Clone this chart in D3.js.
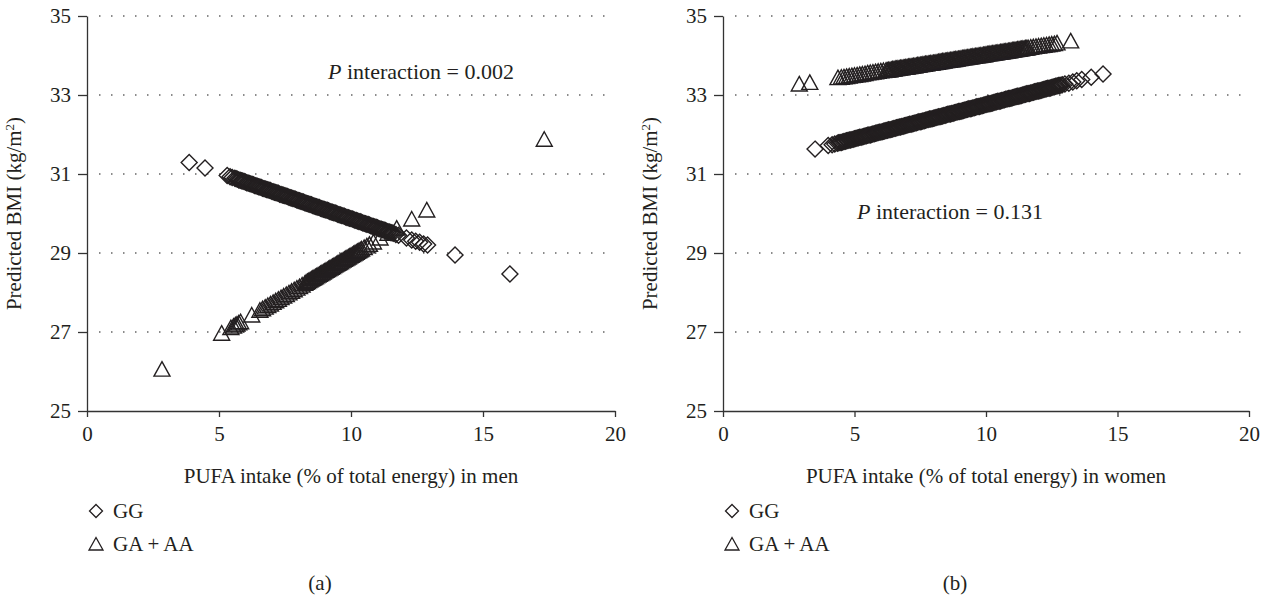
<!DOCTYPE html>
<html>
<head>
<meta charset="utf-8">
<script src="https://cdn.jsdelivr.net/npm/d3@7"></script>
<style>
  body { margin: 0; background: #fff; }
  svg text { font-family: "Liberation Serif", "Times New Roman", serif; fill: #231f20; }
</style>
</head>
<body>
<div id="chart"></div>
<script>
// tick values and series names
var xTicks = [0, 5, 10, 15, 20];
var yTicks = [25, 27, 29, 31, 33, 35];
var groups = ["GG", "GA + AA"];
var pValues = ["0.002", "0.131"];

// men, GG (diamonds) [PUFA %, predicted BMI]
var menGG = [
  [3.87,31.29],[4.47,31.15],[5.31,30.96],[5.42,30.93],[5.50,30.91],
  [5.60,30.89],[5.65,30.88],[5.70,30.87],[5.75,30.85],[5.80,30.84],[5.85,30.83],[5.90,30.82],[5.95,30.81],
  [6.00,30.80],[6.05,30.78],[6.10,30.77],[6.15,30.76],[6.20,30.75],[6.25,30.74],[6.30,30.73],[6.35,30.71],
  [6.40,30.70],[6.45,30.69],[6.50,30.68],[6.55,30.67],[6.60,30.66],[6.65,30.64],[6.70,30.63],[6.75,30.62],
  [6.80,30.61],[6.85,30.60],[6.90,30.59],[6.95,30.58],[7.00,30.56],[7.05,30.55],[7.10,30.54],[7.15,30.53],
  [7.20,30.52],[7.25,30.51],[7.30,30.49],[7.35,30.48],[7.40,30.47],[7.45,30.46],[7.50,30.45],[7.55,30.44],
  [7.60,30.43],[7.65,30.41],[7.70,30.40],[7.75,30.39],[7.80,30.38],[7.85,30.37],[7.90,30.36],[7.95,30.34],
  [8.00,30.33],[8.05,30.32],[8.10,30.31],[8.15,30.30],[8.20,30.29],[8.25,30.27],[8.30,30.26],[8.35,30.25],
  [8.40,30.24],[8.45,30.23],[8.50,30.22],[8.55,30.20],[8.60,30.19],[8.65,30.18],[8.70,30.17],[8.75,30.16],
  [8.80,30.15],[8.85,30.13],[8.90,30.12],[8.95,30.11],[9.00,30.10],[9.05,30.09],[9.10,30.08],[9.15,30.07],
  [9.20,30.05],[9.25,30.04],[9.30,30.03],[9.35,30.02],[9.40,30.01],[9.45,30.00],[9.50,29.98],[9.55,29.97],
  [9.60,29.96],[9.65,29.95],[9.70,29.94],[9.75,29.93],[9.80,29.91],[9.85,29.90],[9.90,29.89],[9.95,29.88],
  [10.00,29.87],[10.05,29.86],[10.10,29.85],[10.15,29.83],[10.20,29.82],[10.25,29.81],[10.30,29.80],[10.35,29.79],
  [10.40,29.78],[10.45,29.76],[10.50,29.75],[10.55,29.74],[10.60,29.73],[10.65,29.72],[10.70,29.71],[10.75,29.69],
  [10.80,29.68],[10.85,29.67],[10.90,29.66],[10.95,29.65],[11.00,29.64],[11.05,29.62],[11.10,29.61],[11.15,29.60],
  [11.20,29.59],[11.25,29.58],[11.30,29.57],[11.35,29.55],[11.40,29.54],[11.45,29.53],[11.50,29.52],[11.55,29.51],
  [11.60,29.50],[11.70,29.47],[11.80,29.45],[12.10,29.38],[12.30,29.33],[12.45,29.30],[12.60,29.27],[12.75,29.23],
  [12.90,29.20],[13.94,28.95],[16.02,28.47]
];

// men, GA + AA (triangles)
var menGA = [
  [2.84,26.06],[5.10,26.97],[5.45,27.11],[5.55,27.15],[5.62,27.18],[5.68,27.20],[5.75,27.23],[5.82,27.26],
  [6.24,27.43],[6.55,27.55],[6.65,27.59],[6.75,27.63],[6.85,27.67],[6.95,27.71],[7.05,27.75],[7.15,27.79],
  [7.25,27.83],[7.35,27.87],[7.45,27.91],[7.55,27.95],[7.65,27.99],[7.75,28.03],[7.85,28.07],[7.95,28.11],
  [8.05,28.15],[8.15,28.19],[8.25,28.23],[8.30,28.26],[8.35,28.28],[8.40,28.30],[8.45,28.32],[8.50,28.34],
  [8.55,28.36],[8.60,28.38],[8.65,28.40],[8.70,28.42],[8.75,28.44],[8.80,28.46],[8.85,28.48],[8.90,28.50],
  [8.95,28.52],[9.00,28.54],[9.05,28.56],[9.10,28.58],[9.15,28.60],[9.20,28.62],[9.25,28.64],[9.30,28.66],
  [9.35,28.68],[9.40,28.70],[9.45,28.72],[9.50,28.74],[9.55,28.76],[9.60,28.78],[9.65,28.80],[9.70,28.82],
  [9.75,28.84],[9.80,28.86],[9.85,28.88],[9.90,28.90],[9.95,28.92],[10.00,28.94],[10.05,28.96],[10.10,28.98],
  [10.15,29.00],[10.20,29.02],[10.25,29.04],[10.30,29.06],[10.35,29.08],[10.40,29.10],[10.50,29.14],[10.60,29.18],
  [10.70,29.22],[10.85,29.28],[11.10,29.38],[11.40,29.50],[11.73,29.63],[12.30,29.86],[12.87,30.09],[17.32,31.88]
];

// women, GG (diamonds)
var womenGG = [
  [3.50,31.63],[4.00,31.72],[4.15,31.74],[4.25,31.76],[4.35,31.78],
  [4.40,31.79],[4.45,31.80],[4.50,31.80],[4.55,31.81],[4.60,31.82],[4.65,31.83],[4.70,31.84],[4.75,31.85],
  [4.80,31.86],[4.85,31.86],[4.90,31.87],[4.95,31.88],[5.00,31.89],[5.05,31.90],[5.10,31.91],[5.15,31.92],
  [5.20,31.93],[5.25,31.93],[5.30,31.94],[5.35,31.95],[5.40,31.96],[5.45,31.97],[5.50,31.98],[5.55,31.99],
  [5.60,31.99],[5.65,32.00],[5.70,32.01],[5.75,32.02],[5.80,32.03],[5.85,32.04],[5.90,32.05],[5.95,32.06],
  [6.00,32.06],[6.05,32.07],[6.10,32.08],[6.15,32.09],[6.20,32.10],[6.25,32.11],[6.30,32.12],[6.35,32.12],
  [6.40,32.13],[6.45,32.14],[6.50,32.15],[6.55,32.16],[6.60,32.17],[6.65,32.18],[6.70,32.19],[6.75,32.19],
  [6.80,32.20],[6.85,32.21],[6.90,32.22],[6.95,32.23],[7.00,32.24],[7.05,32.25],[7.10,32.26],[7.15,32.26],
  [7.20,32.27],[7.25,32.28],[7.30,32.29],[7.35,32.30],[7.40,32.31],[7.45,32.32],[7.50,32.32],[7.55,32.33],
  [7.60,32.34],[7.65,32.35],[7.70,32.36],[7.75,32.37],[7.80,32.38],[7.85,32.39],[7.90,32.39],[7.95,32.40],
  [8.00,32.41],[8.05,32.42],[8.10,32.43],[8.15,32.44],[8.20,32.45],[8.25,32.45],[8.30,32.46],[8.35,32.47],
  [8.40,32.48],[8.45,32.49],[8.50,32.50],[8.55,32.51],[8.60,32.52],[8.65,32.52],[8.70,32.53],[8.75,32.54],
  [8.80,32.55],[8.85,32.56],[8.90,32.57],[8.95,32.58],[9.00,32.58],[9.05,32.59],[9.10,32.60],[9.15,32.61],
  [9.20,32.62],[9.25,32.63],[9.30,32.64],[9.35,32.65],[9.40,32.65],[9.45,32.66],[9.50,32.67],[9.55,32.68],
  [9.60,32.69],[9.65,32.70],[9.70,32.71],[9.75,32.71],[9.80,32.72],[9.85,32.73],[9.90,32.74],[9.95,32.75],
  [10.00,32.76],[10.05,32.77],[10.10,32.78],[10.15,32.78],[10.20,32.79],[10.25,32.80],[10.30,32.81],[10.35,32.82],
  [10.40,32.83],[10.45,32.84],[10.50,32.84],[10.55,32.85],[10.60,32.86],[10.65,32.87],[10.70,32.88],[10.75,32.89],
  [10.80,32.90],[10.85,32.91],[10.90,32.91],[10.95,32.92],[11.00,32.93],[11.05,32.94],[11.10,32.95],[11.15,32.96],
  [11.20,32.97],[11.25,32.97],[11.30,32.98],[11.35,32.99],[11.40,33.00],[11.45,33.01],[11.50,33.02],[11.55,33.03],
  [11.60,33.04],[11.65,33.04],[11.70,33.05],[11.75,33.06],[11.80,33.07],[11.85,33.08],[11.90,33.09],[11.95,33.10],
  [12.00,33.10],[12.05,33.11],[12.10,33.12],[12.15,33.13],[12.20,33.14],[12.25,33.15],[12.30,33.16],[12.35,33.17],
  [12.40,33.17],[12.45,33.18],[12.50,33.19],[12.55,33.20],[12.60,33.21],[12.65,33.22],[12.70,33.23],[12.75,33.24],
  [12.80,33.24],[12.85,33.25],[12.90,33.26],[13.00,33.28],[13.15,33.30],[13.30,33.33],[13.45,33.36],[13.64,33.39],
  [14.00,33.45],[14.45,33.53]
];

// women, GA + AA (triangles)
var womenGA = [
  [2.90,33.28],[3.30,33.32],[4.37,33.44],[4.50,33.45],[4.60,33.46],[4.70,33.47],[4.80,33.48],[4.90,33.49],
  [5.00,33.50],[5.10,33.51],[5.20,33.52],[5.30,33.53],[5.40,33.54],[5.50,33.56],[5.60,33.57],[5.70,33.58],
  [5.80,33.59],[5.90,33.60],[6.00,33.61],[6.10,33.62],
  [6.20,33.63],[6.25,33.63],[6.30,33.64],[6.35,33.64],[6.40,33.65],[6.45,33.66],[6.50,33.66],[6.55,33.67],
  [6.60,33.67],[6.65,33.68],[6.70,33.68],[6.75,33.69],[6.80,33.69],[6.85,33.70],[6.90,33.70],[6.95,33.71],
  [7.00,33.71],[7.05,33.72],[7.10,33.72],[7.15,33.73],[7.20,33.73],[7.25,33.74],[7.30,33.74],[7.35,33.75],
  [7.40,33.76],[7.45,33.76],[7.50,33.77],[7.55,33.77],[7.60,33.78],[7.65,33.78],[7.70,33.79],[7.75,33.79],
  [7.80,33.80],[7.85,33.80],[7.90,33.81],[7.95,33.81],[8.00,33.82],[8.05,33.82],[8.10,33.83],[8.15,33.83],
  [8.20,33.84],[8.25,33.85],[8.30,33.85],[8.35,33.86],[8.40,33.86],[8.45,33.87],[8.50,33.87],[8.55,33.88],
  [8.60,33.88],[8.65,33.89],[8.70,33.89],[8.75,33.90],[8.80,33.90],[8.85,33.91],[8.90,33.91],[8.95,33.92],
  [9.00,33.92],[9.05,33.93],[9.10,33.94],[9.15,33.94],[9.20,33.95],[9.25,33.95],[9.30,33.96],[9.35,33.96],
  [9.40,33.97],[9.45,33.97],[9.50,33.98],[9.55,33.98],[9.60,33.99],[9.65,33.99],[9.70,34.00],[9.75,34.00],
  [9.80,34.01],[9.85,34.01],[9.90,34.02],[9.95,34.02],[10.00,34.03],[10.05,34.04],[10.10,34.04],[10.15,34.05],
  [10.20,34.05],[10.25,34.06],[10.30,34.06],[10.35,34.07],[10.40,34.07],[10.45,34.08],[10.50,34.08],[10.55,34.09],
  [10.60,34.09],[10.65,34.10],[10.70,34.10],[10.75,34.11],[10.80,34.11],[10.85,34.12],[10.90,34.12],[10.95,34.13],
  [11.00,34.14],[11.05,34.14],[11.10,34.15],[11.15,34.15],[11.20,34.16],[11.25,34.16],[11.30,34.17],[11.35,34.17],
  [11.40,34.18],[11.45,34.18],[11.50,34.19],[11.55,34.19],[11.60,34.20],[11.70,34.21],[11.80,34.22],[11.90,34.23],
  [12.00,34.24],[12.10,34.25],[12.20,34.26],[12.30,34.27],[12.40,34.28],[12.50,34.29],[12.60,34.30],[12.70,34.32],
  [13.22,34.37]
];

function init() {
  var w = 1266;
  var h = 596;
  var top = 16;
  var bottom = 411;
  var fontSize = 21;

  var diamond = "M0,-8L8,0L0,8L-8,0Z";
  var triangle = "M0,-7.5L8,7L-8,7Z";
  var legDiamond = "M0,-6.5L6.5,0L0,6.5L-6.5,0Z";
  var legTriangle = "M0,-6.5L7,6L-7,6Z";

  var svg = d3
    .select("#chart")
    .append("svg")
    .attr("width", w)
    .attr("height", h);

  var panels = [
    { x0: 87, x1: 615, series: [menGG, menGA], label: "PUFA intake (% of total energy) in men",
      pX: 328, pY: 79, p: pValues[0], tag: "(a)" },
    { x0: 723, x1: 1249, series: [womenGG, womenGA], label: "PUFA intake (% of total energy) in women",
      pX: 857, pY: 219, p: pValues[1], tag: "(b)" }
  ];

  var y = d3.scaleLinear().domain([25, 35]).range([bottom, top]);

  panels.forEach(function (p) {
    var g = svg.append("g");
    var x = d3.scaleLinear().domain([0, 20]).range([p.x0, p.x1]);

    // dotted gridlines
    g.selectAll(".grid")
      .data(yTicks.slice(1))
      .enter()
      .append("line")
      .attr("x1", x(0) + 12)
      .attr("x2", x(20))
      .attr("y1", (d) => y(d))
      .attr("y2", (d) => y(d))
      .attr("stroke", "#666")
      .attr("stroke-width", 1.5)
      .attr("stroke-dasharray", "1.5,10.5");

    // axes
    var yAxis = d3.axisLeft(y).tickValues(yTicks).tickSize(9).tickSizeOuter(0).tickPadding(7);
    var xAxis = d3.axisBottom(x).tickValues(xTicks).tickSize(6).tickSizeOuter(0).tickPadding(9);

    var ga = g.append("g")
      .attr("transform", "translate(" + x(0) + ",0)")
      .call(yAxis);
    var gx = g.append("g")
      .attr("transform", "translate(0," + bottom + ")")
      .call(xAxis);
    [ga, gx].forEach(function (a) {
      a.selectAll("path, line").attr("stroke", "#333").attr("stroke-width", 1.3);
      a.selectAll("text")
        .attr("font-size", fontSize)
        .attr("font-family", "Liberation Serif, serif")
        .attr("fill", "#231f20");
    });

    // markers
    var shapes = [diamond, triangle];
    p.series.forEach(function (data, i) {
      g.append("g")
        .selectAll("path")
        .data(data)
        .enter()
        .append("path")
        .attr("d", shapes[i])
        .attr("transform", (d) => "translate(" + x(d[0]) + "," + y(d[1]) + ")")
        .attr("fill", "none")
        .attr("stroke", "#231f20")
        .attr("stroke-width", 1.4);
    });

    // axis titles
    var yl = g.append("text")
      .attr("transform", "translate(" + (p.x0 - 66) + "," + ((top + bottom) / 2) + ") rotate(-90)")
      .attr("text-anchor", "middle")
      .attr("font-size", fontSize);
    yl.append("tspan").text("Predicted BMI (kg/m");
    yl.append("tspan").attr("baseline-shift", "super").attr("font-size", 13).text("2");
    yl.append("tspan").text(")");

    g.append("text")
      .attr("x", (p.x0 + p.x1) / 2)
      .attr("y", 483)
      .attr("text-anchor", "middle")
      .attr("font-size", fontSize)
      .text(p.label);

    // P interaction
    var pt = g.append("text")
      .attr("x", p.pX)
      .attr("y", p.pY)
      .attr("font-size", fontSize + 1);
    pt.append("tspan").attr("font-style", "italic").text("P");
    pt.append("tspan").text(" interaction = " + p.p);

    // legend
    var leg = g.append("g").attr("transform", "translate(" + (p.x0 + 9) + ",0)");
    var legShapes = [legDiamond, legTriangle];
    groups.forEach(function (name, i) {
      var ly = 511 + i * 33;
      leg.append("path")
        .attr("d", legShapes[i])
        .attr("transform", "translate(0," + ly + ")")
        .attr("fill", "none")
        .attr("stroke", "#231f20")
        .attr("stroke-width", 1.3);
      leg.append("text")
        .attr("x", 17)
        .attr("y", ly + 7)
        .attr("font-size", fontSize)
        .text(name);
    });

    g.append("text")
      .attr("x", (p.x0 + p.x1) / 2 - 31)
      .attr("y", 590)
      .attr("text-anchor", "middle")
      .attr("font-size", fontSize)
      .text(p.tag);
  });
}

window.onload = init;
</script>
</body>
</html>
